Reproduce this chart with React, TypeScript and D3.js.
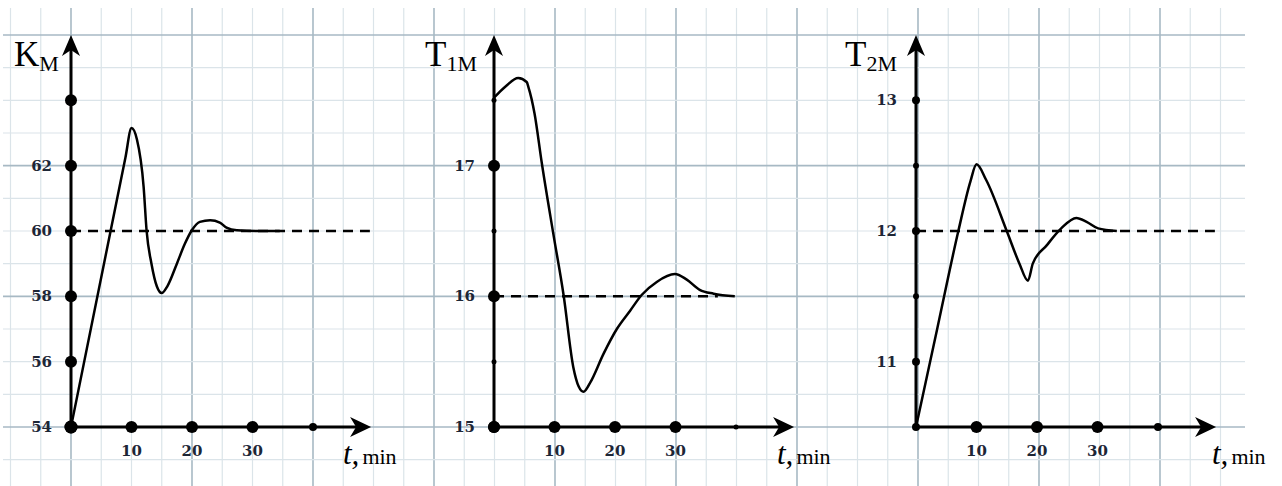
import React from 'react';
import * as d3 from 'd3';

// time axis (shared by all three panels)
const X_LABELS = [10, 20, 30];
const X_SMALL = [40];

// K_M panel
const K_TIMES = [0, 9, 10, 10.9, 12, 12.5, 13.3, 14.2, 15, 15.9, 17.5, 18.8, 20, 21.3, 23, 24.6, 25.7, 27.4, 31, 34.5];
const K_VALUES = [54, 62.25, 63.15, 62.8, 61.36, 60, 59.0, 58.3, 58.1, 58.3, 59.0, 59.6, 60.03, 60.28, 60.33, 60.26, 60.1, 60.02, 60, 60];
const K_BIG_TICKS = [54, 56, 58, 60, 62, 64];
const K_SMALL_TICKS: number[] = [];
const K_LABELS = [54, 56, 58, 60, 62];
const K_SETPOINT = 60;

// T_1M panel
const T1_TIMES = [0, 2, 4, 5.4, 5.7, 6.7, 7.9, 9.8, 11.5, 13.1, 14, 14.8, 15.9, 18.1, 20.3, 22.5, 24.4, 26.9, 29.9, 31.8, 34, 36.3, 39.8];
const T1_VALUES = [17.52, 17.61, 17.67, 17.64, 17.6, 17.4, 17.02, 16.48, 16.01, 15.46, 15.31, 15.27, 15.34, 15.56, 15.75, 15.89, 16.01, 16.11, 16.17, 16.13, 16.05, 16.02, 16.0];
const T1_BIG_TICKS = [15, 16, 17];
const T1_SMALL_TICKS = [15.5, 16.5, 17.5];
const T1_LABELS = [15, 16, 17];
const T1_SETPOINT = 16;

// T_2M panel
const T2_TIMES = [0, 3.5, 7, 9, 10, 11.6, 15, 17.1, 18.5, 19.3, 21.6, 24, 26.5, 28.2, 30.1, 33.2];
const T2_VALUES = [10.5, 11.25, 12.0, 12.38, 12.51, 12.39, 12.0, 11.75, 11.62, 11.75, 11.89, 12.02, 12.1, 12.07, 12.02, 12.0];
const T2_BIG_TICKS = [11, 12, 13];
const T2_SMALL_TICKS = [11.5, 12.5];
const T2_LABELS = [11, 12, 13];
const T2_SETPOINT = 12;

const W = 1282;
const H = 486;
const ORIGIN_Y = 427;
const TOP_Y = 35;
const X_SPAN = 302.5; // px for 50 min

const PANELS = [
  {
    id: 'k', ox: 71, domain: [54, 66], times: K_TIMES, values: K_VALUES,
    big: K_BIG_TICKS, small: K_SMALL_TICKS, labels: K_LABELS, setpoint: K_SETPOINT, setEnd: 49.4,
    title: 'K', sub: 'M', titleDx: -57, tDx: 272, bigR: 6, smallR: 3, originR: 6.5, x40R: 4,
  },
  {
    id: 't1', ox: 494, domain: [15, 18], times: T1_TIMES, values: T1_VALUES,
    big: T1_BIG_TICKS, small: T1_SMALL_TICKS, labels: T1_LABELS, setpoint: T1_SETPOINT, setEnd: 37,
    title: 'T', sub: '1M', titleDx: -69, tDx: 283, bigR: 6, smallR: 2.5, originR: 6, x40R: 2.5,
  },
  {
    id: 't2', ox: 916, domain: [10.5, 13.5], times: T2_TIMES, values: T2_VALUES,
    big: T2_BIG_TICKS, small: T2_SMALL_TICKS, labels: T2_LABELS, setpoint: T2_SETPOINT, setEnd: 49.4,
    title: 'T', sub: '2M', titleDx: -71, tDx: 296, bigR: 4, smallR: 3, originR: 4, x40R: 4,
  },
];

function Grid() {
  // grid follows the first panel's scales: 5 min per column, 1 unit per row
  const x = d3.scaleLinear().domain([0, 50]).range([71, 71 + X_SPAN]);
  const y = d3.scaleLinear().domain([54, 66]).range([ORIGIN_Y, TOP_Y]);
  const cols = d3.range(-10, 191, 5);
  const rows = d3.range(53, 67, 1);
  return (
    <g>
      {cols.map((t) => (
        <line key={'c' + t} x1={x(t)} x2={x(t)} y1={8} y2={H}
          stroke={t % 20 === 0 ? '#a7b9c4' : '#dbe4e9'} strokeWidth={t % 20 === 0 ? 1.6 : 1.2} />
      ))}
      {rows.map((v) => (
        <line key={'r' + v} x1={3} x2={1245} y1={y(v)} y2={y(v)}
          stroke={(v - 54) % 4 === 0 ? '#a7b9c4' : '#dbe4e9'} strokeWidth={(v - 54) % 4 === 0 ? 1.6 : 1.2} />
      ))}
    </g>
  );
}

function Panel({ p }: { p: any }) {
  const x = d3.scaleLinear().domain([0, 50]).range([p.ox, p.ox + X_SPAN]);
  const y = d3.scaleLinear().domain(p.domain).range([ORIGIN_Y, TOP_Y]);
  const line = d3
    .line<number>()
    .x((d, i) => x(p.times[i]))
    .y((d) => y(d))
    .curve(d3.curveMonotoneX);

  const y0 = y(p.domain[0]);
  const yTop = y(p.domain[1]);
  const xTip = x(49.6);
  const labelFont = { fontFamily: '"DejaVu Serif", serif', fontWeight: 'bold', fontSize: 15, fill: '#1d2636' } as const;

  return (
    <g>
      {/* setpoint */}
      <line x1={x(0)} x2={x(p.setEnd)} y1={y(p.setpoint)} y2={y(p.setpoint)}
        stroke="#000" strokeWidth={2.5} strokeDasharray="10 7" />

      {/* axes */}
      <line x1={x(0)} x2={x(0)} y1={y0} y2={yTop + 12} stroke="#000" strokeWidth={3} />
      <path d={`M${x(0)},${yTop} L${x(0) - 9},${yTop + 21} L${x(0)},${yTop + 15} L${x(0) + 9},${yTop + 21} Z`} fill="#000" />
      <line x1={x(0)} x2={xTip - 12} y1={y0} y2={y0} stroke="#000" strokeWidth={3} />
      <path d={`M${xTip},${y0} L${xTip - 21},${y0 - 10} L${xTip - 15},${y0} L${xTip - 21},${y0 + 10} Z`} fill="#000" />

      {/* response curve */}
      <path d={line(p.values) || ''} fill="none" stroke="#000" strokeWidth={2.5} strokeLinejoin="round" />

      {/* tick dots */}
      {p.big.map((v: number) => (
        <circle key={'b' + v} cx={x(0)} cy={y(v)} r={v === p.domain[0] ? p.originR : p.bigR} fill="#000" />
      ))}
      {p.small.map((v: number) => (
        <circle key={'s' + v} cx={x(0)} cy={y(v)} r={p.smallR} fill="#000" />
      ))}
      <circle cx={x(0)} cy={y0} r={p.originR} fill="#000" />
      {X_LABELS.map((t) => (
        <circle key={'x' + t} cx={x(t)} cy={y0} r={6} fill="#000" />
      ))}
      {X_SMALL.map((t) => (
        <circle key={'xs' + t} cx={x(t)} cy={y0} r={p.x40R} fill="#000" />
      ))}

      {/* tick labels */}
      {p.labels.map((v: number) => (
        <text key={'l' + v} x={x(0) - 19} y={y(v) + 5} textAnchor="end" {...labelFont}>{v}</text>
      ))}
      {X_LABELS.map((t) => (
        <text key={'xl' + t} x={x(t)} y={y0 + 29} textAnchor="middle" {...labelFont}>{t}</text>
      ))}

      {/* titles */}
      <text x={x(0) + p.titleDx} y={66} fontFamily='"Liberation Serif", serif' fill="#000">
        <tspan fontSize={35}>{p.title}</tspan>
        <tspan fontSize={22} dy={5}>{p.sub}</tspan>
      </text>
      <text x={x(0) + p.tDx} y={y0 + 37} fontFamily='"Liberation Serif", serif' fill="#000">
        <tspan fontSize={31} fontStyle="italic">t,</tspan>
        <tspan fontSize={22} dx={3}>min</tspan>
      </text>
    </g>
  );
}

export default function App() {
  return (
    <div style={{ position: 'absolute', left: 0, top: 0 }}>
      <svg width={W} height={H} style={{ display: 'block', background: '#fff' }}>
        <Grid />
        {PANELS.map((p) => (
          <Panel key={p.id} p={p} />
        ))}
      </svg>
    </div>
  );
}
